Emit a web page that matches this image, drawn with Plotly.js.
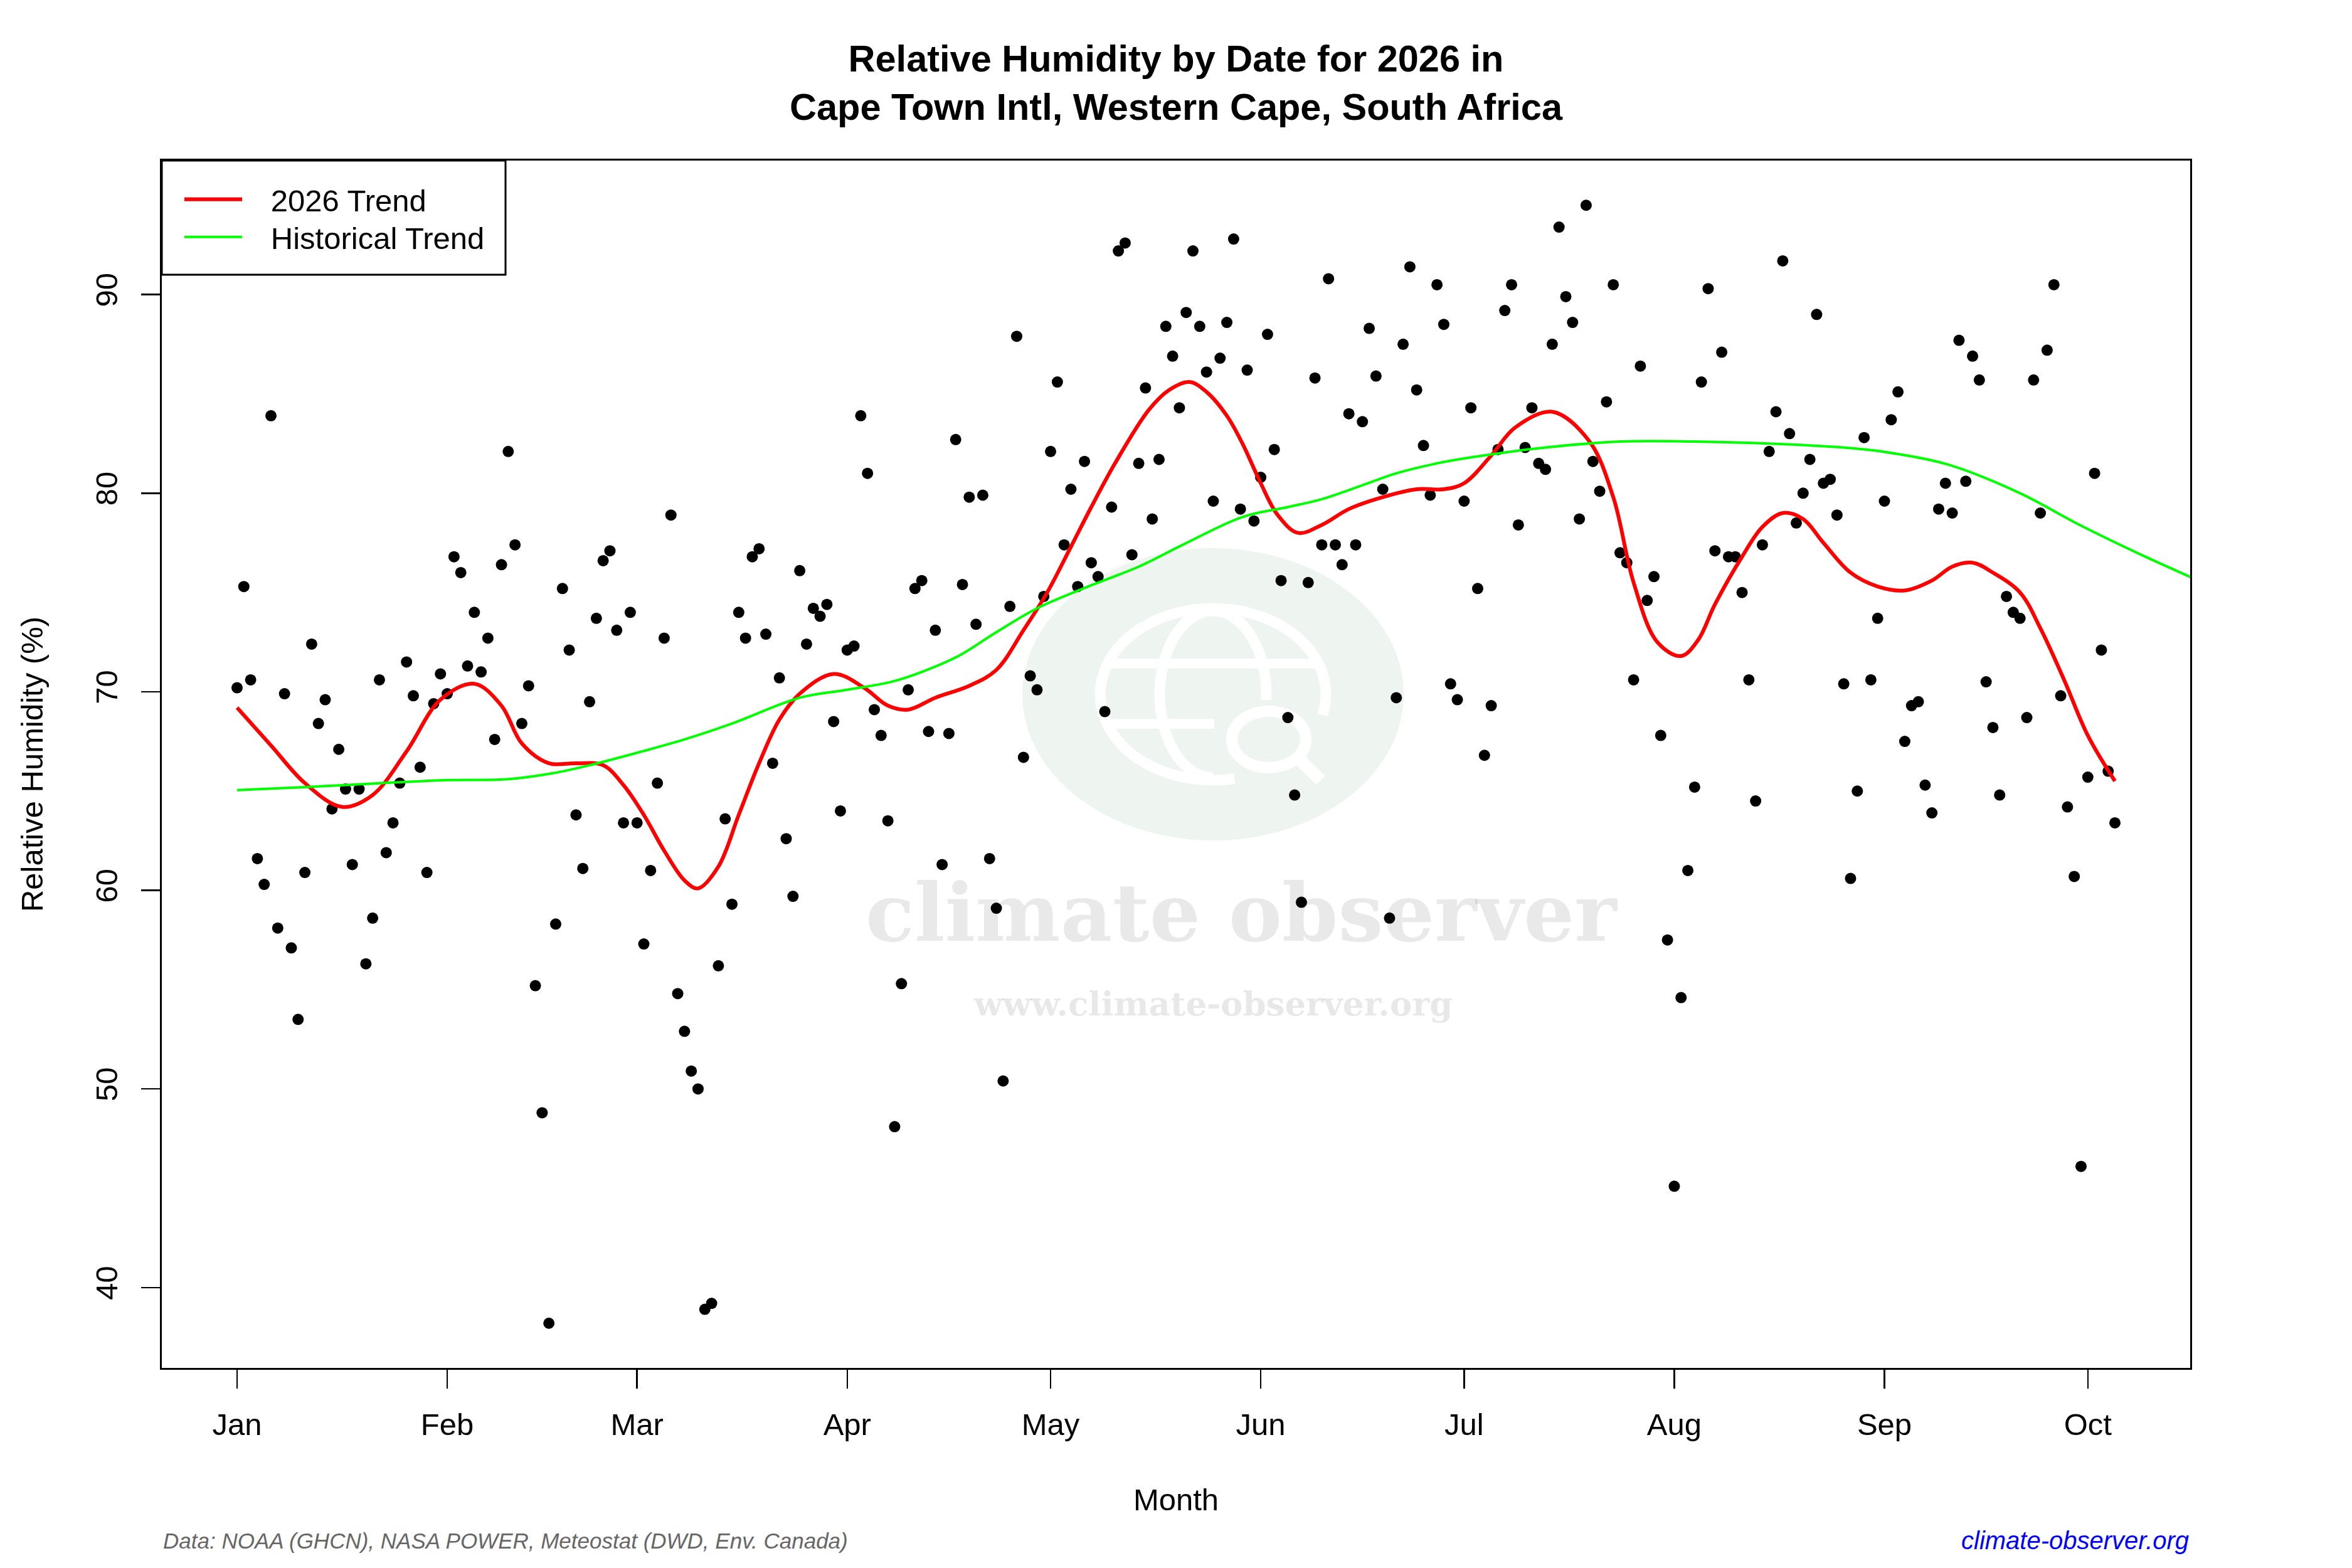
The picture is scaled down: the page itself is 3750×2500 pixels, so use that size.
<!DOCTYPE html>
<html>
<head>
<meta charset="utf-8">
<script src="https://cdn.plot.ly/plotly-3.0.1.min.js"></script>
<style>html,body{margin:0;padding:0;background:#fff;}#chart{width:3750px;height:2500px;}</style>
</head>
<body>
<div id="chart"></div>
<script>
// ---------------- data ----------------
const startDate = [2026, 0, 1];
// daily relative humidity (%), Jan 1 .. Oct 5, 2026
const rh = [
70.2,75.3,70.6,61.6,60.3,83.9,58.1,69.9,57.1,53.5,60.9,72.4,68.4,69.6,64.1,67.1,65.1,61.3,65.1,56.3,
58.6,70.6,61.9,63.4,65.4,71.5,69.8,66.2,60.9,69.4,70.9,
69.9,76.8,76.0,71.3,74.0,71.0,72.7,67.6,76.4,82.1,77.4,68.4,70.3,55.2,48.8,38.2,58.3,75.2,72.1,63.8,
61.1,69.5,73.7,76.6,77.1,73.1,63.4,74.0,
63.4,57.3,61.0,65.4,72.7,78.9,54.8,52.9,50.9,50.0,38.9,39.2,56.2,63.6,59.3,74.0,72.7,76.8,77.2,72.9,
66.4,70.7,62.6,59.7,76.1,72.4,74.2,73.8,74.4,68.5,64.0,
72.1,72.3,83.9,81.0,69.1,67.8,63.5,48.1,55.3,70.1,75.2,75.6,68.0,73.1,61.3,67.9,82.7,75.4,79.8,73.4,
79.9,61.6,59.1,50.4,74.3,87.9,66.7,70.8,70.1,74.8,
82.1,85.6,77.4,80.2,75.3,81.6,76.5,75.8,69.0,79.3,92.2,92.6,76.9,81.5,85.3,78.7,81.7,88.4,86.9,84.3,
89.1,92.2,88.4,86.1,79.6,86.8,88.6,92.8,79.2,86.2,78.6,
80.8,88.0,82.2,75.6,68.7,64.8,59.4,75.5,85.8,77.4,90.8,77.4,76.4,84.0,77.4,83.6,88.3,85.9,80.2,58.6,
69.7,87.5,91.4,85.2,82.4,79.9,90.5,88.5,70.4,69.6,
79.6,84.3,75.2,66.8,69.3,82.2,89.2,90.5,78.4,82.3,84.3,81.5,81.2,87.5,93.4,89.9,88.6,78.7,94.5,81.6,
80.1,84.6,90.5,77.0,76.5,70.6,86.4,74.6,75.8,67.8,57.5,
45.1,54.6,61.0,65.2,85.6,90.3,77.1,87.1,76.8,76.8,75.0,70.6,64.5,77.4,82.1,84.1,91.7,83.0,78.5,80.0,
81.7,89.0,80.5,80.7,78.9,70.4,60.6,65.0,82.8,70.6,73.7,
79.6,83.7,85.1,67.5,69.3,69.5,65.3,63.9,79.2,80.5,79.0,87.7,80.6,86.9,85.7,70.5,68.2,64.8,74.8,74.0,
73.7,68.7,85.7,79.0,87.2,90.5,69.8,64.2,60.7,46.1,
65.7,81.0,72.1,66.0,63.4
];

// 2026 trend (day offset from Jan 1, value)
const trend2026Day = [0,5,10,15.5,20,25,30,35,39,42,46,50,54,57,60,63,66,68,71,74,77,80,83,88,92.5,96,99,103,108,112,116,119.5,123,126,129.5,134.5,137.5,140.5,143,146,148.3,151,153.5,156.5,160,164,169,174,178,181,185,188.5,194,199.5,203,206,209.5,213,215.5,218,222,225,228,231,234,238,242,246,250,253,256,259,263,266,269.5,273,277];
const trend2026 = [69.2,67.3,65.4,64.2,64.8,67.0,69.6,70.4,69.3,67.4,66.4,66.4,66.3,65.3,63.8,62.0,60.5,60.1,61.2,63.8,66.4,68.6,69.9,70.9,70.2,69.3,69.1,69.7,70.3,71.1,73.1,75.0,77.3,79.3,81.5,84.2,85.2,85.6,85.1,83.9,82.5,80.5,78.9,78.0,78.4,79.2,79.8,80.2,80.2,80.5,81.9,83.3,84.1,82.6,79.8,75.5,72.5,71.8,72.6,74.4,76.8,78.3,79.0,78.7,77.5,76.0,75.3,75.1,75.6,76.3,76.5,76.0,75.0,73.2,70.6,67.8,65.5];

// historical trend (day offset from Jan 1, value)
const histDay = [0,10,21.5,31,40,46.6,52,59.8,66,73,83,90,96.5,101,106.4,112,118,126.3,133,139.5,148.3,155,160,166,171,177,182,193,204,215,226,237,242.6,252.3,263,271.8,281.5,290];
const histTrend = [65.05,65.2,65.4,65.55,65.6,65.9,66.3,67.0,67.6,68.4,69.7,70.1,70.5,71.0,71.8,73.0,74.2,75.4,76.3,77.4,78.8,79.3,79.7,80.4,81.0,81.5,81.8,82.3,82.6,82.6,82.5,82.3,82.1,81.45,80.0,78.4,76.8,75.5];

const monthNames = ['Jan','Feb','Mar','Apr','May','Jun','Jul','Aug','Sep','Oct'];
const yTicks = [40,50,60,70,80,90];

// ---------------- helpers ----------------
const base = Date.UTC(startDate[0], startDate[1], startDate[2]);
function dayToDate(d){
  const s = new Date(base + d*86400000).toISOString();
  return s.replace('T',' ').slice(0,19);
}
const xDates = rh.map((_, i) => dayToDate(i));
const monthTicks = monthNames.map((_, m) => new Date(Date.UTC(2026, m, 1)).toISOString().slice(0,10));

const FONT = 'Liberation Sans, Arial, Helvetica, sans-serif';
const NB = '\u00a0\u00a0\u00a0';

const traces = [
  {
    x: xDates, y: rh, type: 'scatter', mode: 'markers',
    marker: {color: '#000000', size: 18},
    showlegend: false, hoverinfo: 'x+y'
  },
  {
    x: trend2026Day.map(dayToDate), y: trend2026, type: 'scatter', mode: 'lines',
    name: NB + '2026 Trend', legend: 'legend',
    line: {color: '#ff0000', width: 6, shape: 'spline', smoothing: 1}
  },
  {
    x: histDay.map(dayToDate), y: histTrend, type: 'scatter', mode: 'lines',
    name: NB + 'Historical Trend', legend: 'legend2',
    line: {color: '#00ff00', width: 4, shape: 'spline', smoothing: 1}
  }
];

// ---------------- watermark shapes ----------------
const WM_X = (1934-258)/3234, WM_Y = (2181-1107)/1925;
const WM_FILL = '#eef4ef';
function pix(extra){
  return Object.assign({xref:'paper', yref:'paper', xsizemode:'pixel', ysizemode:'pixel',
    xanchor: WM_X, yanchor: WM_Y, layer:'below'}, extra);
}
function arcPath(rx, ry, a0, a1){
  let p = '';
  const n = 60;
  for(let i=0;i<=n;i++){
    const a = (a0 + (a1-a0)*i/n) * Math.PI/180;
    p += (i===0?'M':'L') + (rx*Math.cos(a)).toFixed(1) + ',' + (ry*Math.sin(a)).toFixed(1) + ' ';
  }
  return p;
}
const shapes = [
  pix({type:'circle', x0:-304, x1:304, y0:-233, y1:233, fillcolor: WM_FILL, line:{width:0}}),
  pix({type:'path', path: arcPath(180,137,-14,281), line:{color:'#ffffff', width:17}}),
  pix({type:'path', path: arcPath(85,133,-4,270), line:{color:'#ffffff', width:17}}),
  pix({type:'path', path: 'M-163,49 L163,49', line:{color:'#ffffff', width:16}}),
  pix({type:'path', path: 'M-163,-47 L2,-47', line:{color:'#ffffff', width:16}}),
  pix({type:'circle', x0:89-59, x1:89+59, y0:-72-45, y1:-72+45, fillcolor: WM_FILL, line:{color:'#ffffff', width:18}}),
  pix({type:'path', path: 'M140,-106 L172,-137', line:{color:'#ffffff', width:20}}),
  // legend frame
  {type:'rect', xref:'paper', yref:'paper', x0:0, x1:(806-258)/3234, y0:(2181-438)/1925, y1:1,
   fillcolor:'#ffffff', line:{color:'#000000', width:3}, layer:'above'}
];

const annotations = [
  {text:'climate observer', xref:'paper', yref:'paper', x:(1980-258)/3234, y:(2181-1455)/1925,
   xanchor:'center', yanchor:'middle', showarrow:false,
   font:{family:'DejaVu Serif, serif', size:128, color:'rgba(0,0,0,0.085)', weight:'bold'}},
  {text:'www.climate-observer.org', xref:'paper', yref:'paper', x:(1934-258)/3234, y:(2181-1600)/1925,
   xanchor:'center', yanchor:'middle', showarrow:false,
   font:{family:'DejaVu Serif, serif', size:53, color:'rgba(0,0,0,0.09)', weight:'bold'}},
  {text:'<i>Data: NOAA (GHCN), NASA POWER, Meteostat (DWD, Env. Canada)</i>', xref:'paper', yref:'paper',
   x:0, y:(2181-2456)/1925, xanchor:'left', yanchor:'middle', showarrow:false,
   font:{family:FONT, size:35, color:'#666666'}},
  {text:'<i>climate-observer.org</i>', xref:'paper', yref:'paper',
   x:1, y:(2181-2456)/1925, xanchor:'right', yanchor:'middle', showarrow:false,
   font:{family:FONT, size:40, color:'#0000ff'}}
];

const legendCommon = {
  xref: 'paper', yref: 'paper', xanchor: 'left', yanchor: 'middle',
  bgcolor: 'rgba(0,0,0,0)', borderwidth: 0,
  font: {family: FONT, size: 49, color: '#000000'},
  itemwidth: 92
};

const layout = {
  width: 3750, height: 2500,
  margin: {l:258, r:258, t:256, b:319, pad:0},
  paper_bgcolor: '#ffffff', plot_bgcolor: '#ffffff',
  font: {family: FONT, color: '#000000', size: 49},
  title: {
    text: 'Relative Humidity by Date for 2026 in<br>Cape Town Intl, Western Cape, South Africa',
    font: {family: FONT, size: 59.5, color: '#000000', weight: 'bold'},
    x: 0.5, xanchor: 'center', xref: 'paper', y: 1-114/2500, yanchor: 'middle', yref: 'container'
  },
  xaxis: {
    type: 'date', range: [dayToDate(-11.1), dayToDate(288.1)],
    tickmode: 'array', tickvals: monthTicks, ticktext: monthNames,
    showgrid: false, zeroline: false, showline: true, mirror: true,
    linecolor: '#000000', linewidth: 3,
    ticks: 'outside', ticklen: 30, tickwidth: 2.5, tickcolor: '#000000',
    tickfont: {family: FONT, size: 49, color: '#000000'},
    ticklabelstandoff: 15,
    title: {text: 'Month', font: {family: FONT, size: 49, color: '#000000'}, standoff: 77},
    automargin: false
  },
  yaxis: {
    range: [35.95, 96.75], tickmode: 'array', tickvals: yTicks, ticktext: yTicks.map(String),
    tickangle: -90,
    showgrid: false, zeroline: false, showline: true, mirror: true,
    linecolor: '#000000', linewidth: 3,
    ticks: 'outside', ticklen: 30, tickwidth: 2.5, tickcolor: '#000000',
    tickfont: {family: FONT, size: 49, color: '#000000'},
    ticklabelstandoff: 18,
    title: {text: 'Relative Humidity (%)', font: {family: FONT, size: 49, color: '#000000'}, standoff: 60},
    automargin: false
  },
  legend: Object.assign({x: (289-258)/3234, y: (2181-318)/1925}, legendCommon),
  legend2: Object.assign({x: (289-258)/3234, y: (2181-378)/1925}, legendCommon),
  shapes: shapes,
  annotations: annotations,
  showlegend: true
};

Plotly.newPlot('chart', traces, layout, {displayModeBar: false, staticPlot: true});
</script>
</body>
</html>
